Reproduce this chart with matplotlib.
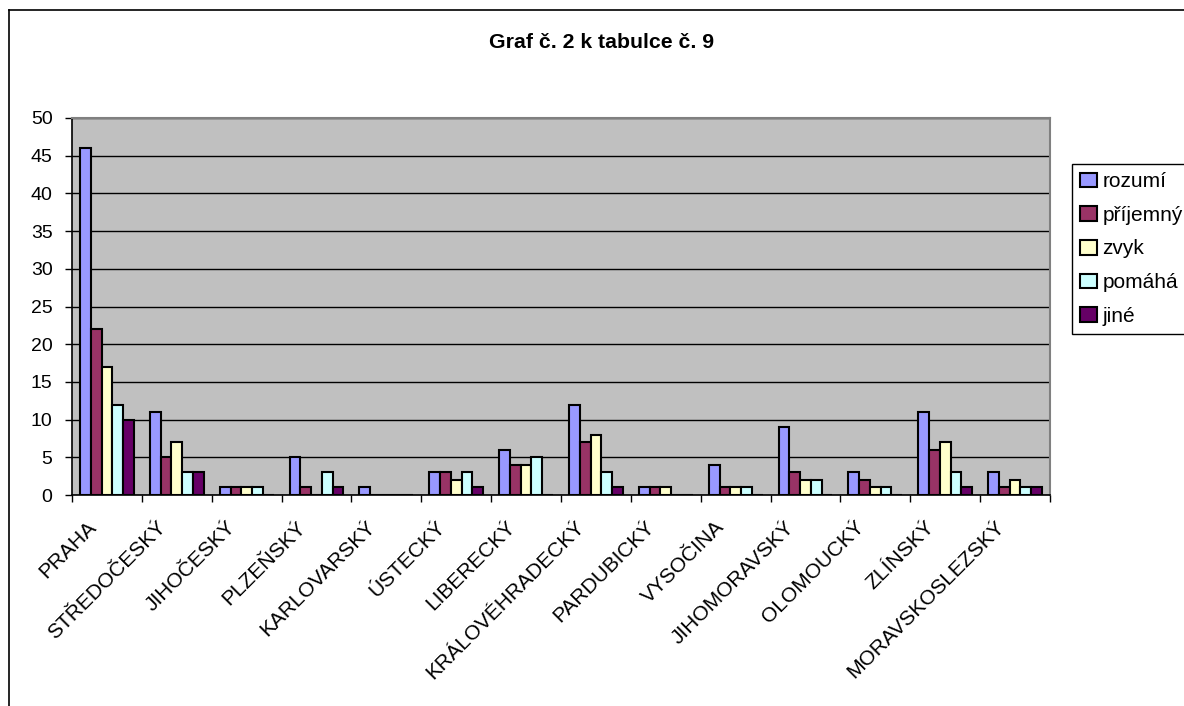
import numpy as np
import matplotlib
matplotlib.use('Agg')
import matplotlib.pyplot as plt
import matplotlib.transforms as mtransforms
from matplotlib.lines import Line2D

plt.rcParams['font.family'] = ['Liberation Sans', 'DejaVu Sans']

# kraje
kraje = ['PRAHA', 'STŘEDOČESKÝ', 'JIHOČESKÝ', 'PLZEŇSKÝ', 'KARLOVARSKÝ',
         'ÚSTECKÝ', 'LIBERECKÝ', 'KRÁLOVÉHRADECKÝ', 'PARDUBICKÝ', 'VYSOČINA',
         'JIHOMORAVSKÝ', 'OLOMOUCKÝ', 'ZLÍNSKÝ', 'MORAVSKOSLEZSKÝ']

rozumi   = [46, 11, 1, 5, 1, 3, 6, 12, 1, 4, 9, 3, 11, 3]
prijemny = [22, 5, 1, 1, 0, 3, 4, 7, 1, 1, 3, 2, 6, 1]
zvyk     = [17, 7, 1, 0, 0, 2, 4, 8, 1, 1, 2, 1, 7, 2]
pomaha   = [12, 3, 1, 3, 0, 3, 5, 3, 0, 1, 2, 1, 3, 1]
jine     = [10, 3, 0, 1, 0, 1, 0, 1, 0, 0, 0, 0, 1, 1]

serie = [rozumi, prijemny, zvyk, pomaha, jine]
nazvy = ['rozumí', 'příjemný', 'zvyk', 'pomáhá', 'jiné']
barvy = ['#9999FF', '#993366', '#FFFFCC', '#CCFFFF', '#660066']

W, H = 1184, 706
fig = plt.figure(figsize=(W / 100, H / 100), dpi=100)

# ramecek grafu
fig.add_artist(Line2D([9 / W, 9 / W], [0, 1 - 10 / H], color='black', lw=1.2,
                      transform=fig.transFigure))
fig.add_artist(Line2D([9 / W, 1], [1 - 10 / H, 1 - 10 / H], color='black', lw=1.2,
                      transform=fig.transFigure))

ax = fig.add_axes([72 / W, 1 - 495 / H, (1050 - 72) / W, (495 - 118) / H])
ax.set_facecolor('#C0C0C0')

x = np.arange(len(kraje))
w = 1 / 6.5
for i, (vals, c, n) in enumerate(zip(serie, barvy, nazvy)):
    ax.bar(x + (i - 2) * w, vals, w, color=c, edgecolor='black', linewidth=1.5,
           label=n, zorder=3)

ax.set_xlim(-0.5, len(kraje) - 0.5)
ax.set_ylim(0, 50)
ax.set_yticks(np.arange(0, 51, 5))
ax.yaxis.grid(True, color='black', lw=1, zorder=1)
ax.set_axisbelow(True)

ax.set_xticks(x)
ax.set_xticklabels(kraje, rotation=45, ha='right', va='center',
                   rotation_mode='anchor', fontsize=15)
ax.set_xticks(np.arange(-0.5, len(kraje), 1), minor=True)
ax.tick_params(axis='x', which='major', length=0, pad=21)
ax.tick_params(axis='x', which='minor', length=5, width=1, color='black')
ax.tick_params(axis='y', length=5, width=1, pad=9, labelsize=14)

posun = mtransforms.ScaledTranslation(-0.14, 0, fig.dpi_scale_trans)
for lab in ax.get_xticklabels():
    lab.set_transform(lab.get_transform() + posun)

for s in ['top', 'right']:
    ax.spines[s].set_color('#808080')
    ax.spines[s].set_linewidth(1.5)
for s in ['left', 'bottom']:
    ax.spines[s].set_color('black')
    ax.spines[s].set_linewidth(1.2)

fig.text(602 / W, 1 - 42 / H, 'Graf č. 2 k tabulce č. 9', ha='center',
         va='center', fontsize=15.3, fontweight='bold')

leg = fig.legend(loc='upper left', bbox_to_anchor=(1072 / W, 1 - 164 / H),
                 borderaxespad=0, fontsize=15, frameon=True, fancybox=False,
                 edgecolor='black', framealpha=1, handlelength=0.8,
                 handleheight=0.7, handletextpad=0.25, labelspacing=0.7,
                 borderpad=0.4)
leg.get_frame().set_linewidth(1)

fig.savefig('out.png', dpi=100)
